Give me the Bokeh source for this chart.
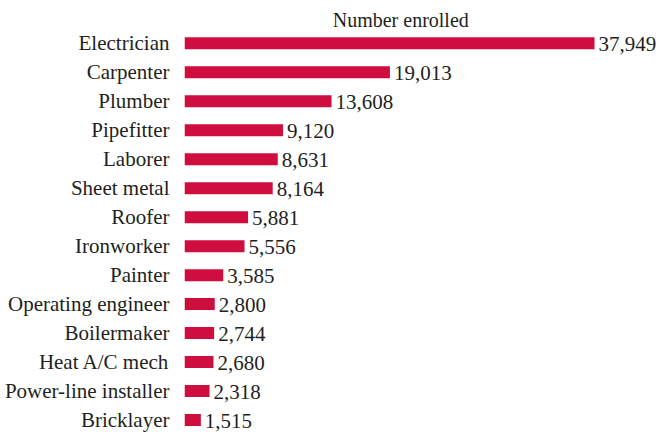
from bokeh.plotting import figure
from bokeh.models import Range1d, FixedTicker, Label, ColumnDataSource
from bokeh.core.properties import value
from bokeh.embed import file_html
from bokeh.resources import INLINE

trades = ["Electrician", "Carpenter", "Plumber", "Pipefitter", "Laborer",
          "Sheet metal", "Roofer", "Ironworker", "Painter", "Operating engineer",
          "Boilermaker", "Heat A/C mech", "Power-line installer", "Bricklayer"]
enrolled = [37949, 19013, 13608, 9120, 8631, 8164, 5881, 5556, 3585, 2800,
            2744, 2680, 2318, 1515]
title_text = "Number enrolled"

BAR = "#CF0D3E"
INK = "#231F20"
FONT = "Liberation Serif"

pos = list(range(len(trades)))
labels = [f"{v:,}" for v in enrolled]
src = ColumnDataSource(dict(y=pos, v=enrolled, lab=labels))

p = figure(width=670, height=432, output_backend="svg", toolbar_location=None,
           x_range=Range1d(0, 44980), y_range=Range1d(13.43, -1.477),
           x_axis_location=None,
           min_border_left=184, min_border_right=0,
           min_border_top=0, min_border_bottom=0)
p.outline_line_color = None
p.grid.visible = False
p.background_fill_color = "white"
p.border_fill_color = "white"

p.hbar(y="y", left=0, right="v", height=0.414, source=src,
       fill_color=BAR, line_color=None)
p.text(x="v", y="y", text="lab", source=src, x_offset=4, y_offset=1,
       text_align="left", text_baseline="middle",
       text_font=value(FONT), text_font_size="21px", text_color=INK)

ax = p.yaxis[0]
ax.ticker = FixedTicker(ticks=pos)
ax.major_label_overrides = {i: t for i, t in enumerate(trades)}
ax.axis_line_color = None
ax.major_tick_line_color = None
ax.minor_tick_line_color = None
ax.major_tick_out = 0
ax.major_tick_in = 0
ax.major_label_standoff = 15
ax.major_label_text_font = FONT
ax.major_label_text_font_size = "21px"
ax.major_label_text_color = INK

p.add_layout(Label(x=20015, y=-0.80, text=title_text, text_align="center",
                   text_baseline="alphabetic", text_font=FONT,
                   text_font_size="20px", text_color=INK))

open("out.html", "w").write(file_html(p, INLINE))
